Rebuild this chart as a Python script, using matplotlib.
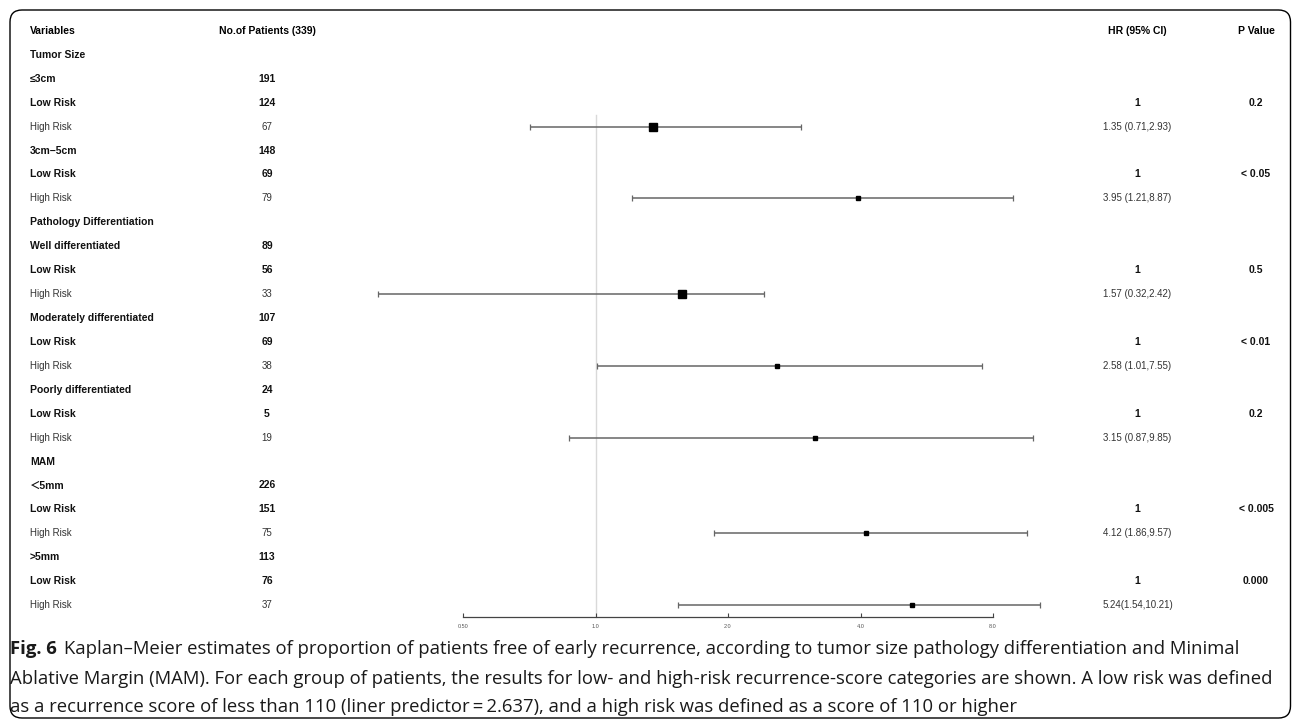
import matplotlib
matplotlib.use("Agg")
import matplotlib.pyplot as plt
import matplotlib.transforms as mtransforms
from matplotlib.patches import FancyBboxPatch
from matplotlib.ticker import NullLocator

# table rows (header row is drawn separately)
labels = ["Tumor Size", "≤3cm", "Low Risk", "High Risk", "3cm−5cm", "Low Risk", "High Risk",
          "Pathology Differentiation", "Well differentiated", "Low Risk", "High Risk",
          "Moderately differentiated", "Low Risk", "High Risk", "Poorly differentiated",
          "Low Risk", "High Risk", "MAM", "＜5mm", "Low Risk", "High Risk", ">5mm",
          "Low Risk", "High Risk"]
patients = ["", "191", "124", "67", "148", "69", "79", "", "89", "56", "33", "107", "69", "38",
            "24", "5", "19", "", "226", "151", "75", "113", "76", "37"]
hr_text = ["", "", "1", "1.35 (0.71,2.93)", "", "1", "3.95 (1.21,8.87)", "", "", "1",
           "1.57 (0.32,2.42)", "", "1", "2.58 (1.01,7.55)", "", "1", "3.15 (0.87,9.85)",
           "", "", "1", "4.12 (1.86,9.57)", "", "1", "5.24(1.54,10.21)"]
p_text = ["", "", "0.2", "", "", "< 0.05", "", "", "", "0.5", "", "", "< 0.01", "", "",
          "0.2", "", "", "", "< 0.005", "", "", "0.000", ""]

# high-risk hazard ratios
hr = [1.35, 3.95, 1.57, 2.58, 3.15, 4.12, 5.24]
ci_low = [0.71, 1.21, 0.32, 1.01, 0.87, 1.86, 1.54]
ci_high = [2.93, 8.87, 2.42, 7.55, 9.85, 9.57, 10.21]

x_ticks = [0.5, 1.0, 2.0, 4.0, 8.0]
x_tick_labels = ["0.50", "1.0", "2.0", "4.0", "8.0"]

caption_lines = [
    "Kaplan–Meier estimates of proportion of patients free of early recurrence, according to tumor size pathology differentiation and Minimal",
    "Ablative Margin (MAM). For each group of patients, the results for low- and high-risk recurrence-score categories are shown. A low risk was defined",
    "as a recurrence score of less than 110 (liner predictor\u2009=\u20092.637), and a high risk was defined as a score of 110 or higher",
]

W, H = 1292, 721
fig = plt.figure(figsize=(W / 100, H / 100), dpi=100)
fig.patch.set_facecolor("white")

table_font = ["Liberation Sans", "Noto Sans CJK SC", "DejaVu Sans"]

ax = fig.add_axes([463 / W, (H - 617) / H, (993 - 463) / W, (617 - 19) / H])
ax.set_xscale("log", base=2)
ax.set_xlim(0.5, 8)
ax.set_ylim(len(labels) + 0.5, -0.5)
for side in ("top", "right", "left"):
    ax.spines[side].set_visible(False)
ax.spines["bottom"].set_bounds(0.5, 8)
ax.spines["bottom"].set_color("#444444")
ax.spines["bottom"].set_linewidth(0.9)
ax.set_xticks(x_ticks)
ax.set_xticklabels(x_tick_labels, fontfamily=table_font)
ax.xaxis.set_minor_locator(NullLocator())
ax.tick_params(axis="x", direction="in", length=3, width=0.8, color="#444444",
               labelsize=4, labelcolor="#555555", pad=5)
ax.set_yticks([])
ax.patch.set_visible(False)

# reference line at HR = 1
ax.plot([1, 1], [3.5, len(labels) + 0.5], color="#d9d9d9", lw=1, zorder=1, clip_on=False)

high_rows = [i + 1 for i, lab in enumerate(labels) if lab == "High Risk"]
box_sizes = [6, 2.5, 6, 2.5, 2.5, 2.5, 2.5]
for y, est, lo, hi, ms in zip(high_rows, hr, ci_low, ci_high, box_sizes):
    ax.errorbar([est], [y], xerr=[[est - lo], [hi - est]], fmt="none", ecolor="#666666",
                elinewidth=1.1, capsize=2.2, capthick=0.9, clip_on=False, zorder=2)
    ax.plot([est], [y], marker="s", ms=ms, color="black", clip_on=False, zorder=3)

trans = mtransforms.blended_transform_factory(fig.transFigure, ax.transData)
x_var, x_n, x_hr, x_p = 30 / W, 267 / W, 1137.5 / W, 1256 / W
fs_bold, fs_reg = 7.5, 7

header = dict(transform=trans, fontsize=fs_bold, fontweight="bold", va="center", family=table_font)
ax.text(x_var, 0, "Variables", ha="left", **header)
ax.text(x_n, 0, "No.of Patients (339)", ha="center", **header)
ax.text(x_hr, 0, "HR (95% CI)", ha="center", **header)
ax.text(x_p, 0, "P Value", ha="center", **header)

for i, lab in enumerate(labels):
    y = i + 1
    bold = lab != "High Risk"
    weight = "bold" if bold else "normal"
    fs = fs_bold if bold else fs_reg
    color = "#111111" if bold else "#333333"
    kw = dict(transform=trans, va="center", family=table_font)
    ax.text(x_var, y, lab, ha="left", fontweight=weight, fontsize=fs, color=color, **kw)
    if patients[i]:
        ax.text(x_n, y, patients[i], ha="center", fontweight=weight, fontsize=fs,
                color=color, **kw)
    if hr_text[i]:
        one = hr_text[i] == "1"
        ax.text(x_hr, y, hr_text[i], ha="center", fontweight="bold" if one else "normal",
                fontsize=fs_bold if one else fs_reg, color="#111111" if one else "#333333", **kw)
    if p_text[i]:
        ax.text(x_p, y, p_text[i], ha="center", fontweight="bold", fontsize=fs_bold,
                color="#111111", **kw)

# rounded frame around the figure panel
frame = FancyBboxPatch((10 / 100, 3 / 100), (1290.5 - 10) / 100, (718 - 10) / 100,
                       boxstyle="round,pad=0,rounding_size=0.12", transform=fig.dpi_scale_trans,
                       fill=False, edgecolor="black", lw=1.0)
fig.patches.append(frame)

# caption
cap_font = ["Open Sans", "DejaVu Sans"]
cap_fs = 13.3
cap_color = "#1a1a1a"
baselines = [654, 684, 712]
fig.canvas.draw()
renderer = fig.canvas.get_renderer()
t = fig.text(10 / W, 1 - baselines[0] / H, "Fig. 6", fontsize=cap_fs, fontweight="bold",
             family=cap_font, va="baseline", ha="left", color=cap_color)
w = t.get_window_extent(renderer).width
fig.text((10 + w + 7) / W, 1 - baselines[0] / H, caption_lines[0], fontsize=cap_fs,
         family=cap_font, va="baseline", ha="left", color=cap_color)
for line, b in zip(caption_lines[1:], baselines[1:]):
    fig.text(10 / W, 1 - b / H, line, fontsize=cap_fs, family=cap_font, va="baseline",
             ha="left", color=cap_color)

fig.savefig("out.png", dpi=100, facecolor="white")
